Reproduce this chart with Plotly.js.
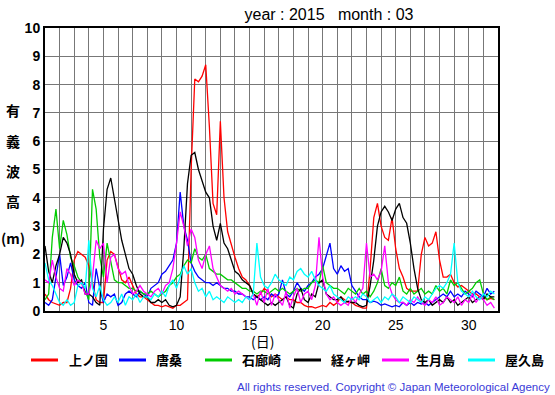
<!DOCTYPE html>
<html>
<head>
<meta charset="utf-8">
<script src="https://cdn.plot.ly/plotly-3.0.1.min.js"></script>
<style>html,body{margin:0;padding:0;background:#fff;}#chart{width:555px;height:395px;}</style>
</head>
<body>
<div id="chart"></div>
<script>
// Significant wave height (m), March 2015, sampled every 6 hours from day 1.00
const stationNames = ['上ノ国', '唐桑', '石廊崎', '経ヶ岬', '生月島', '屋久島'];
const samplesPerDay = 4;
const xTickVals = [5, 10, 15, 20, 25, 30];
const xTickText = ['5', '10', '15', '20', '25', '30'];
const yTickVals = [0, 1, 2, 3, 4, 5, 6, 7, 8, 9, 10];
const yTickText = ['0', '1', '2', '3', '4', '5', '6', '7', '8', '9', '10'];

const kaminokuni = [
  0.6,0.4,0.3,0.25, 0.2,0.3,0.3,0.8, 1.8,2.1,2.0,1.9, 1.6,1.0,0.4,0.3,
  0.3,1.8,2.1,2.0, 1.5,1.1,1.0,1.2, 0.9,0.6,0.5,0.5, 0.4,0.3,0.2,0.2,
  0.15,0.2,0.15,0.1, 0.2,0.2,0.3,0.4, 5.0,8.2,8.1,8.3, 8.7,6.5,3.8,3.4,
  6.7,4.0,2.8,2.3, 1.9,1.5,1.2,1.1, 0.9,0.6,0.5,0.6, 0.8,0.7,0.5,0.6,
  0.5,0.4,0.5,0.4, 0.4,0.3,0.3,0.2, 0.15,0.15,0.1,0.15, 0.2,0.15,0.3,0.2,
  0.3,0.5,0.4,0.3, 0.3,0.2,0.15,0.1, 0.1,1.5,3.3,3.8, 3.0,2.6,2.5,3.3,
  2.2,1.5,1.2,0.8, 0.7,0.7,0.7,2.0, 2.6,2.3,2.4,2.8, 1.8,1.2,1.2,1.3,
  1.0,0.85,0.9,0.8, 0.7,0.6,0.6,0.5, 0.5,0.4,0.45,0.4
];
const karakuwa = [
  0.3,0.2,0.4,1.2, 2.0,0.9,1.2,1.7, 1.1,0.9,0.8,1.0, 0.3,0.2,1.5,0.8,
  0.3,0.6,0.5,0.6, 0.2,0.3,0.6,0.7, 0.6,0.5,0.7,0.6, 0.5,0.8,0.9,1.0,
  1.3,1.4,1.6,1.8, 2.4,4.2,3.0,2.5, 1.7,1.4,1.2,1.1, 1.0,1.0,0.9,1.0,
  0.9,0.8,0.8,0.7, 0.7,0.6,0.6,0.5, 0.5,0.4,0.5,0.4, 0.5,0.4,0.6,0.5,
  0.6,1.1,0.6,0.5, 0.7,1.0,0.8,0.7, 0.9,1.0,1.2,1.3, 1.5,2.0,2.4,1.5,
  1.3,1.6,1.4,1.5, 0.9,0.7,0.5,0.4, 0.4,0.3,0.35,0.3, 0.2,0.25,0.2,0.15,
  0.2,0.15,0.3,0.2, 0.3,0.2,0.3,0.25, 0.3,0.2,0.3,0.4, 0.5,0.6,0.5,0.7,
  0.5,0.6,0.5,0.7, 0.6,0.5,0.7,0.6, 0.5,0.8,0.6,0.7
];
const irozaki = [
  0.4,0.6,2.6,3.6, 2.2,3.2,2.7,1.9, 1.6,1.2,1.0,0.7, 0.4,4.3,3.6,1.9,
  1.2,2.4,1.7,1.1, 1.0,1.0,0.9,0.8, 0.8,0.7,0.7,0.6, 0.6,0.7,0.6,0.5,
  0.6,0.7,0.9,1.0, 1.2,1.3,1.6,1.8, 1.7,2.2,1.9,1.8, 2.0,1.5,1.4,1.3,
  1.3,1.2,1.1,1.1, 1.0,0.9,0.8,0.8, 0.7,0.7,0.6,0.7, 0.7,0.6,0.7,0.8,
  0.7,0.8,0.7,0.6, 0.7,0.8,0.7,0.8, 0.8,1.0,1.1,1.0, 1.6,1.0,0.9,0.8,
  0.8,0.7,0.6,0.8, 0.7,0.6,0.8,0.6, 0.7,0.5,0.7,1.0, 1.5,0.9,0.8,1.0,
  0.9,1.2,0.7,0.6, 0.8,0.6,0.7,0.8, 0.6,0.7,0.6,0.9, 0.7,0.8,0.6,1.1,
  0.9,1.0,0.8,0.6, 0.7,0.8,1.0,1.1, 0.6,0.4,0.5,0.4
];
const kyogamisaki = [
  2.3,1.4,1.0,1.6, 2.0,2.6,2.4,2.0, 1.3,1.0,1.1,0.6, 0.6,0.5,0.3,0.2,
  2.9,4.3,4.7,4.0, 3.2,2.5,2.0,1.5, 1.3,0.9,0.6,0.5, 0.5,0.3,0.3,0.4,
  0.3,0.4,0.2,0.15, 0.2,0.5,2.2,4.5, 5.5,5.6,5.0,4.6, 4.2,4.0,3.0,2.5,
  3.1,2.4,2.2,1.8, 1.4,1.3,1.1,1.0, 0.9,0.6,0.5,0.4, 0.3,0.2,0.3,0.2,
  0.3,0.4,0.5,0.2, 0.1,0.6,0.8,0.4, 0.3,0.6,0.5,1.0, 1.1,0.6,0.5,0.4,
  0.4,0.5,0.3,0.35, 0.3,0.3,0.2,0.15, 0.2,0.9,1.8,3.0, 3.5,3.7,3.5,3.2,
  3.6,3.8,3.3,3.1, 2.4,1.5,0.8,0.4, 0.3,0.4,0.2,0.3, 0.4,0.3,0.5,0.3,
  0.4,0.2,0.3,0.4, 0.5,0.3,0.4,0.5, 0.4,0.6,0.5,0.5
];
const ikitsukishima = [
  1.1,1.0,1.8,1.2, 0.8,0.7,1.5,1.3, 0.9,1.1,1.0,0.6, 0.6,1.2,2.5,2.2,
  2.4,1.0,1.9,2.0, 1.5,1.3,1.4,0.9, 0.6,0.7,0.9,0.7, 0.6,0.5,0.7,0.8,
  0.6,0.9,1.0,1.5, 2.4,3.5,3.0,2.3, 2.9,2.6,1.8,1.5, 2.0,2.3,1.5,1.2,
  0.9,0.8,0.7,0.8, 0.6,0.7,0.6,0.5, 0.4,0.6,0.2,0.7, 0.3,0.8,0.2,0.6,
  0.4,0.2,0.7,0.1, 0.5,0.8,0.3,0.6, 0.7,0.4,0.9,2.6, 1.2,0.6,0.4,0.5,
  0.3,0.2,0.3,0.2, 0.5,0.3,0.6,0.8, 2.4,1.2,1.3,1.1, 1.4,2.3,1.0,0.6,
  0.4,0.3,0.3,0.2, 0.4,0.3,0.5,0.3, 0.2,0.4,0.3,0.5, 0.2,0.3,0.5,0.4,
  0.3,0.5,0.2,0.4, 0.3,0.6,0.3,0.5, 0.4,0.2,0.3,0.1
];
const yakushima = [
  1.7,1.1,0.9,0.6, 0.3,0.2,0.4,0.2, 0.3,0.9,1.0,0.8, 2.5,0.8,0.5,0.9,
  0.4,0.2,0.3,0.5, 0.3,0.6,0.2,0.5, 0.4,0.6,0.3,0.5, 0.5,0.4,0.6,0.5,
  0.7,0.5,0.9,1.1, 0.8,1.2,1.6,1.3, 1.5,1.0,0.7,0.8, 0.5,0.7,0.4,0.5,
  0.4,0.3,0.5,0.4, 0.3,0.4,0.3,0.5, 0.4,0.6,2.4,1.2, 0.9,0.8,1.0,1.3,
  1.1,1.0,0.9,1.2, 1.1,1.4,1.5,1.3, 1.2,1.4,1.1,0.9, 0.8,0.7,0.9,0.6,
  0.5,0.4,0.3,0.5, 0.4,0.5,0.4,0.6, 0.5,0.3,0.4,0.5, 0.3,0.5,0.4,0.6,
  0.5,0.3,0.5,0.4, 0.3,0.5,0.4,0.3, 0.5,0.4,0.6,0.8, 0.9,0.8,1.0,1.3,
  2.4,1.0,0.7,0.6, 0.5,0.7,0.5,0.4, 0.6,0.5,0.7,0.6
];

const seriesList = [kaminokuni, karakuwa, irozaki, kyogamisaki, ikitsukishima, yakushima];
const colors = ['#ff0000', '#0000ff', '#00cc00', '#000000', '#ff00ff', '#00ffff'];

// Plot-area geometry in pixels (used only to place the free text and legend)
const W = 555, H = 395, L = 45, R = 498, T = 28, B = 311;
const px = x => (x - L) / (R - L);
const py = y => (B - y) / (B - T);

const traces = seriesList.map((vals, k) => ({
  type: 'scatter', mode: 'lines', name: stationNames[k],
  x: vals.map((v, i) => 1 + i / samplesPerDay),
  y: vals,
  line: {color: colors[k], width: 1.3},
  showlegend: false, hoverinfo: 'skip'
}));

const annotations = [];
const shapes = [];
// Vertical y-axis title
const yTitleChars = ['有', '義', '波', '高', '(m)'];
const yTitlePos = [110, 141, 171, 201, 238];
yTitleChars.forEach((c, i) => annotations.push({
  xref: 'paper', yref: 'paper', x: px(13), y: py(yTitlePos[i]), text: c,
  showarrow: false, xanchor: 'center', yanchor: 'middle',
  font: {family: 'Noto Sans CJK JP', size: 14, color: '#000', weight: 'bold'}
}));
// x-axis title
annotations.push({
  xref: 'paper', yref: 'paper', x: px(262), y: py(341), text: '(日)',
  showarrow: false, xanchor: 'center', yanchor: 'middle',
  font: {family: 'Noto Sans CJK JP', size: 14, color: '#000'}
});
// Legend (drawn manually to match the layout of the original)
const legLineX = [31, 119, 205, 294, 382, 468];
const legTextX = [67, 154, 240, 329, 414, 503];
const legY = 360;
stationNames.forEach((n, k) => {
  shapes.push({type: 'line', xref: 'paper', yref: 'paper',
    x0: px(legLineX[k]), x1: px(legLineX[k] + 27), y0: py(legY), y1: py(legY),
    line: {color: colors[k], width: 3}});
  annotations.push({xref: 'paper', yref: 'paper', x: px(legTextX[k]), y: py(legY), text: n,
    showarrow: false, xanchor: 'left', yanchor: 'middle',
    font: {family: 'Noto Sans CJK JP', size: 13, color: '#000', weight: 'bold'}});
});
// Copyright
annotations.push({
  xref: 'paper', yref: 'paper', x: px(552), y: py(387),
  text: 'All rights reserved. Copyright © Japan Meteorological Agency',
  showarrow: false, xanchor: 'right', yanchor: 'middle',
  font: {family: 'Liberation Sans', size: 11.5, color: '#3a3ad8'}
});

const layout = {
  width: W, height: H,
  margin: {l: L, r: W - R, t: T, b: H - B, pad: 0},
  paper_bgcolor: '#fff', plot_bgcolor: '#fff',
  title: {
    text: 'year : 2015   month : 03',
    xref: 'paper', x: px(329), xanchor: 'center',
    yref: 'container', y: 1 - 14 / H, yanchor: 'middle',
    font: {family: 'Liberation Sans', size: 16, color: '#000'}
  },
  xaxis: {
    range: [1, 32], tickmode: 'array', tickvals: xTickVals, ticktext: xTickText,
    showgrid: true, gridcolor: '#777', gridwidth: 1,
    minor: {dtick: 1, tick0: 0, showgrid: true, gridcolor: '#777', gridwidth: 1},
    showline: true, mirror: true, linecolor: '#000', linewidth: 2,
    ticks: '', zeroline: false, fixedrange: true,
    tickfont: {family: 'Liberation Sans', size: 14, color: '#000'}
  },
  yaxis: {
    range: [0, 10], tickmode: 'array', tickvals: yTickVals, ticktext: yTickText,
    showgrid: true, gridcolor: '#777', gridwidth: 1,
    showline: true, mirror: true, linecolor: '#000', linewidth: 2,
    ticks: '', zeroline: false, fixedrange: true,
    tickfont: {family: 'Liberation Sans', size: 14, color: '#000', weight: 'bold'}
  },
  shapes: shapes,
  annotations: annotations,
  showlegend: false
};

Plotly.newPlot('chart', traces, layout, {staticPlot: true, displayModeBar: false});
</script>
</body>
</html>
